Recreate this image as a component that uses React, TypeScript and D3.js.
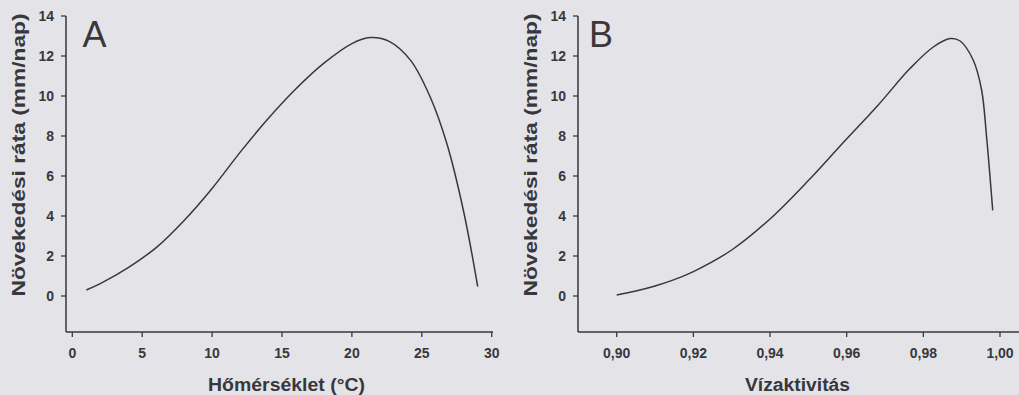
import React from "react";
import * as d3 from "d3";

const tempC = [1, 2, 4, 6, 8, 10, 12, 14, 16, 18, 20, 21.3, 22.7, 24.2, 25.6, 26.8, 28, 29];
const rateA = [0.3, 0.62, 1.42, 2.42, 3.78, 5.38, 7.18, 8.86, 10.36, 11.64, 12.62, 12.92, 12.72, 11.78, 9.95, 7.6, 4.2, 0.47];

const waterAct = [0.9, 0.905, 0.91, 0.915, 0.92, 0.93, 0.94, 0.95, 0.959, 0.968, 0.9765, 0.9826, 0.987, 0.9896, 0.993, 0.9952, 0.9965, 0.9981];
const rateB = [0.05, 0.25, 0.5, 0.82, 1.22, 2.3, 3.85, 5.77, 7.65, 9.5, 11.37, 12.45, 12.87, 12.75, 11.8, 10.3, 7.95, 4.28];

const yTicks = [0, 2, 4, 6, 8, 10, 12, 14];
const xTicksA = [0, 5, 10, 15, 20, 25, 30];
const xTicksB = [0.9, 0.92, 0.94, 0.96, 0.98, 1.0];
const xTickLabelsB = ["0,90", "0,92", "0,94", "0,96", "0,98", "1,00"];

const yTitle = "Növekedési ráta (mm/nap)";
const xTitleA = "Hőmérséklet (°C)";
const xTitleB = "Vízaktivitás";

const INK = "#38383c";
const FONT = "'Liberation Sans', Arial, sans-serif";

type PanelProps = {
  xs: number[];
  ys: number[];
  xDomain: [number, number];
  xRange: [number, number];
  axisX0: number;
  axisX1: number;
  xTicks: number[];
  xLabels: string[];
  xTitle: string;
  xTitleX: number;
  xTitleLen: number;
  letter: string;
  letterDx: number;
};

function Panel(p: PanelProps) {
  const x = d3.scaleLinear().domain(p.xDomain).range(p.xRange);
  const y = d3.scaleLinear().domain([0, 14]).range([296, 16]);
  const axisY = 332;
  const line = d3
    .line<number>()
    .x((_, i) => x(p.xs[i]))
    .y((d) => y(d))
    .curve(d3.curveCatmullRom.alpha(0.5));
  return (
    <g fontFamily={FONT} fill={INK}>
      <line x1={p.axisX0} x2={p.axisX0} y1={y(14)} y2={axisY} stroke={INK} strokeWidth={1.5} />
      <line x1={p.axisX0} x2={p.axisX1} y1={axisY} y2={axisY} stroke={INK} strokeWidth={1.5} />
      {yTicks.map((t) => (
        <g key={"y" + t}>
          <line x1={p.axisX0 - 5} x2={p.axisX0} y1={y(t)} y2={y(t)} stroke={INK} strokeWidth={1.3} />
          <text x={p.axisX0 - 12} y={y(t)} dy="0.36em" textAnchor="end" fontSize={14} fontWeight="bold">
            {t}
          </text>
        </g>
      ))}
      {p.xTicks.map((t, i) => (
        <g key={"x" + t}>
          <line x1={x(t)} x2={x(t)} y1={axisY} y2={axisY + 5} stroke={INK} strokeWidth={1.3} />
          <text x={x(t)} y={357.5} textAnchor="middle" fontSize={14} fontWeight="bold">
            {p.xLabels[i]}
          </text>
        </g>
      ))}
      <text
        transform={`translate(${p.axisX0 - 47},155) rotate(-90)`}
        textAnchor="middle"
        dy="0.36em"
        fontSize={18}
        fontWeight="bold"
        textLength={283}
        lengthAdjust="spacingAndGlyphs"
      >
        {yTitle}
      </text>
      <text
        x={p.xTitleX - p.xTitleLen / 2}
        y={391}
        fontSize={18}
        fontWeight="bold"
        textLength={p.xTitleLen}
        lengthAdjust="spacingAndGlyphs"
      >
        {p.xTitle}
      </text>
      <text x={p.axisX0 + p.letterDx} y={47} fontSize={36}>
        {p.letter}
      </text>
      <path d={line(p.ys) || ""} fill="none" stroke={INK} strokeWidth={1.5} />
    </g>
  );
}

export default function App() {
  return (
    <svg
      width={1019}
      height={395}
      style={{ position: "absolute", left: 0, top: 0, background: "#e4e4e8" }}
    >
      <rect x={0} y={0} width={1019} height={395} fill="#e4e4e8" />
      <Panel
        xs={tempC}
        ys={rateA}
        xDomain={[0, 30]}
        xRange={[72.3, 491.7]}
        axisX0={66}
        axisX1={493}
        xTicks={xTicksA}
        xLabels={xTicksA.map(String)}
        xTitle={xTitleA}
        xTitleX={286.5}
        xTitleLen={157}
        letter="A"
        letterDx={16.5}
      />
      <Panel
        xs={waterAct}
        ys={rateB}
        xDomain={[0.9, 1.0]}
        xRange={[616.7, 1000]}
        axisX0={578}
        axisX1={1019}
        xTicks={xTicksB}
        xLabels={xTickLabelsB}
        xTitle={xTitleB}
        xTitleX={797.5}
        xTitleLen={105}
        letter="B"
        letterDx={11}
      />
    </svg>
  );
}
